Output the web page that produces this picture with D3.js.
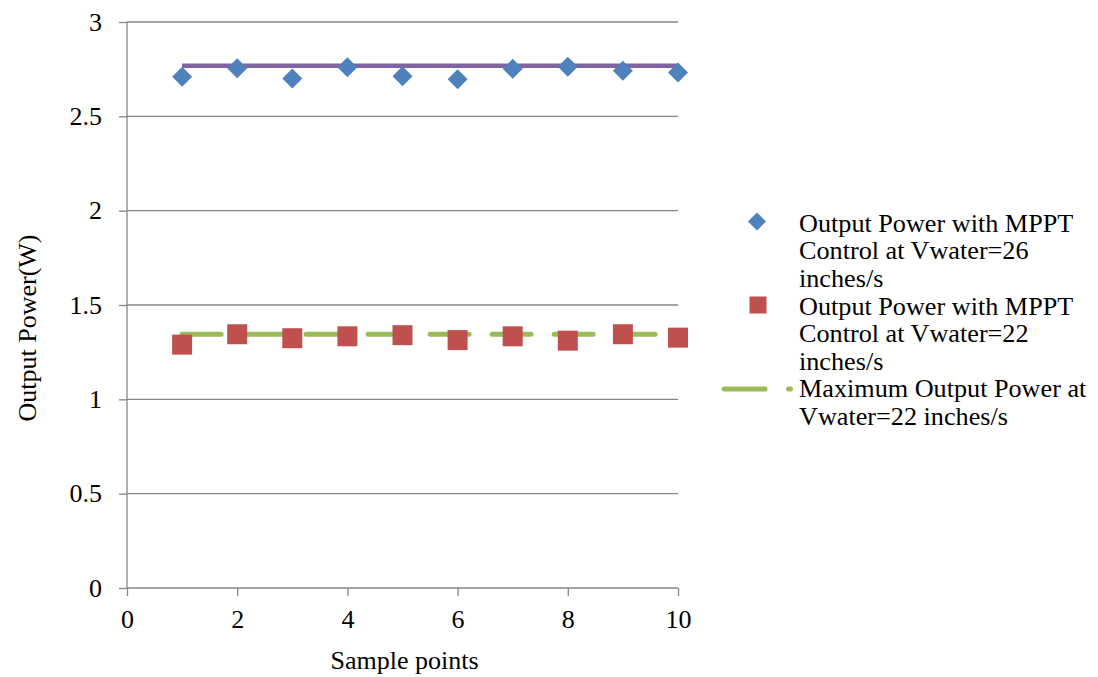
<!DOCTYPE html>
<html>
<head>
<meta charset="utf-8">
<script src="https://cdn.jsdelivr.net/npm/d3@7"></script>
<style>
  html, body { margin: 0; padding: 0; background: #fff; }
  svg { display: block; font-family: "Liberation Serif", "Times New Roman", serif; }
</style>
</head>
<body>
<svg id="chart" width="1098" height="677"></svg>
<script>
// ---- Data ----
const samplePoints = [1, 2, 3, 4, 5, 6, 7, 8, 9, 10];
const power26 = [2.71, 2.755, 2.70, 2.76, 2.713, 2.697, 2.752, 2.763, 2.742, 2.732];
const power22 = [1.29, 1.345, 1.324, 1.334, 1.34, 1.314, 1.334, 1.311, 1.345, 1.327];
const max26 = [2.768, 2.768];
const max22 = [1.345, 1.345];
const maxX = [1, 10];
const xTicks = [0, 2, 4, 6, 8, 10];
const yTicks = [0, 0.5, 1, 1.5, 2, 2.5, 3];
const legendLabels = [
  ["Output Power with MPPT", "Control at Vwater=26", "inches/s"],
  ["Output Power with MPPT", "Control at Vwater=22", "inches/s"],
  ["Maximum Output Power at", "Vwater=22 inches/s"]
];

(function () {
const svg = d3.select("#chart");
const pl = 127, pr = 678, pt = 22, pb = 588;
const x = d3.scaleLinear().domain([0, 10]).range([pl, pr]);
const y = d3.scaleLinear().domain([0, 3]).range([pb, pt]);
const gridColor = "#868686";
const fontFamily = '"Liberation Serif", "Times New Roman", serif';
const axisFont = 26;
const legendFont = 26.2;

// gridlines
svg.append("g").selectAll("line").data(yTicks.filter(d => d > 0)).join("line")
  .attr("x1", pl).attr("x2", pr)
  .attr("y1", d => y(d)).attr("y2", d => y(d))
  .attr("stroke", gridColor).attr("stroke-width", 1.3);

// axes
const yAxis = svg.append("g").attr("transform", `translate(${pl},0)`)
  .call(d3.axisLeft(y).tickValues(yTicks).tickSize(8).tickPadding(17).tickFormat(d3.format("")));
const xAxis = svg.append("g").attr("transform", `translate(0,${pb})`)
  .call(d3.axisBottom(x).tickValues(xTicks).tickSize(8).tickPadding(14).tickFormat(d3.format("")));
[yAxis, xAxis].forEach(a => {
  a.attr("font-family", fontFamily).attr("font-size", axisFont);
  a.select(".domain").attr("stroke", gridColor).attr("stroke-width", 1.3);
  a.selectAll(".tick line").attr("stroke", gridColor).attr("stroke-width", 1.3);
  a.selectAll(".tick text").attr("fill", "#000");
});
yAxis.select(".domain").attr("d", `M0,${pb}V${pt}`);
xAxis.select(".domain").attr("d", `M${pl},0H${pr}`);

// axis titles
svg.append("text").attr("x", 404.5).attr("y", 669)
  .attr("text-anchor", "middle").attr("font-size", axisFont).text("Sample points");
svg.append("text").attr("transform", `translate(36,328) rotate(-90)`)
  .attr("text-anchor", "middle").attr("font-size", axisFont).text("Output Power(W)");

const line = d3.line().x(d => x(d[0])).y(d => y(d[1]));

// purple max line
svg.append("path").datum(maxX.map((v, i) => [v, max26[i]]))
  .attr("d", line).attr("fill", "none").attr("stroke", "#8064A2").attr("stroke-width", 4.5);

// green dashed max line
svg.append("path").datum(maxX.map((v, i) => [v, max22[i]]))
  .attr("d", line).attr("fill", "none").attr("stroke", "#9BBB59").attr("stroke-width", 5)
  .attr("stroke-linecap", "round").attr("stroke-dasharray", "39,23");

// diamonds
svg.append("g").selectAll("path").data(samplePoints.map((v, i) => [v, power26[i]])).join("path")
  .attr("d", d3.symbol().type(d3.symbolSquare).size(200))
  .attr("transform", d => `translate(${x(d[0])},${y(d[1])}) rotate(45)`)
  .attr("fill", "#4F81BD");

// squares
svg.append("g").selectAll("path").data(samplePoints.map((v, i) => [v, power22[i]])).join("path")
  .attr("d", d3.symbol().type(d3.symbolSquare).size(400))
  .attr("transform", d => `translate(${x(d[0])},${y(d[1])})`)
  .attr("fill", "#C0504D");

// legend
const lg = svg.append("g").attr("font-size", legendFont);
const textX = 799;
const lineH = 27.6;
const firstBase = 231.7;
let k = 0;
legendLabels.forEach((lines) => {
  const t = lg.append("text");
  lines.forEach((s) => {
    t.append("tspan").attr("x", textX).attr("y", firstBase + k * lineH).text(s);
    k++;
  });
});
lg.append("path").attr("d", d3.symbol().type(d3.symbolSquare).size(165)())
  .attr("transform", `translate(757,221.5) rotate(45)`).attr("fill", "#4F81BD");
lg.append("path").attr("d", d3.symbol().type(d3.symbolSquare).size(290)())
  .attr("transform", `translate(758,305)`).attr("fill", "#C0504D");
lg.append("line").attr("x1", 724).attr("x2", 765).attr("y1", 389).attr("y2", 389)
  .attr("stroke", "#9BBB59").attr("stroke-width", 5).attr("stroke-linecap", "round");
lg.append("line").attr("x1", 788.5).attr("x2", 790.5).attr("y1", 389).attr("y2", 389)
  .attr("stroke", "#9BBB59").attr("stroke-width", 5).attr("stroke-linecap", "round");
})();
</script>
</body>
</html>
